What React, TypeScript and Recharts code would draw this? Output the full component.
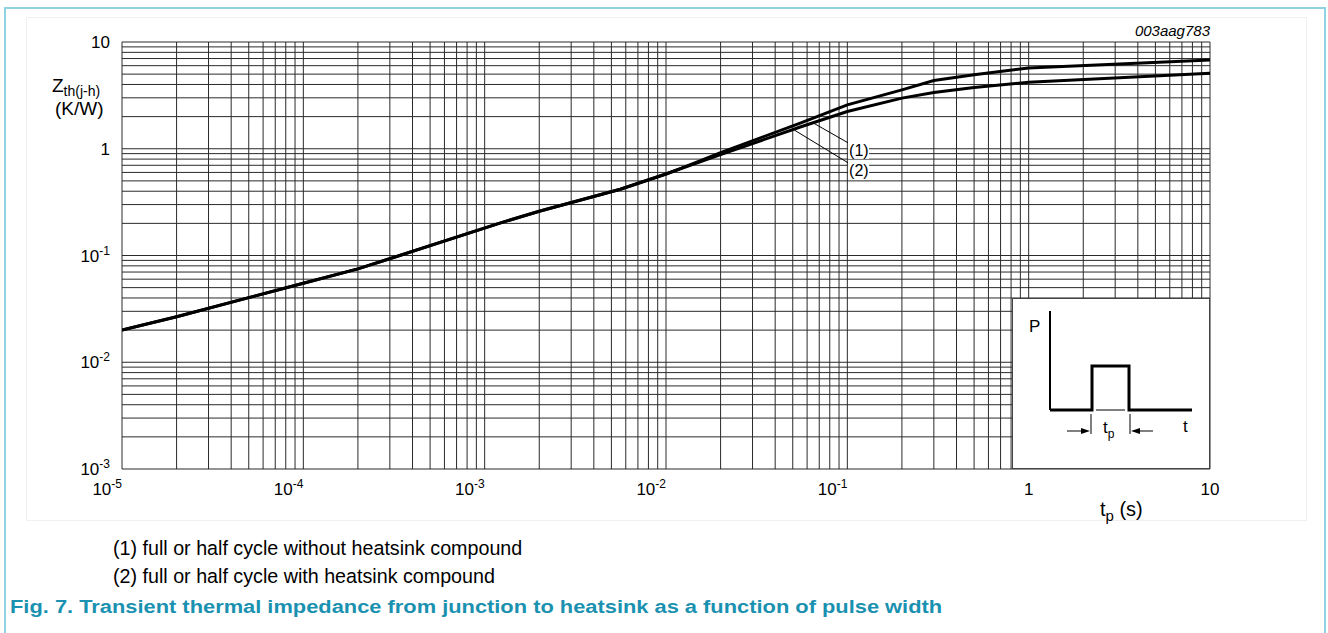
import React from 'react';
import { LineChart, Line, XAxis, YAxis, CartesianGrid, ReferenceLine, ReferenceDot } from 'recharts';

const FONT = '"Liberation Sans", Arial, sans-serif';

// pulse width t_p (s) and Zth(j-h) (K/W)
const pulseWidth = [1e-5, 2e-5, 5e-5, 1e-4, 2e-4, 3.4e-4, 1.2e-3, 2e-3, 5.6e-3, 1e-2, 1.2e-2, 2e-2, 5.5e-2, 0.1, 0.2, 0.3, 0.5, 1, 10];
// (1) without heatsink compound
const zthNoCompound = [0.02, 0.0267, 0.0403, 0.055, 0.075, 0.1, 0.2, 0.26, 0.418, 0.58, 0.65, 0.92, 1.74, 2.58, 3.56, 4.36, 4.94, 5.72, 6.8];
// (2) with heatsink compound
const zthCompound = [0.02, 0.0267, 0.0403, 0.055, 0.075, 0.1, 0.2, 0.26, 0.418, 0.58, 0.65, 0.88, 1.6, 2.23, 2.98, 3.36, 3.75, 4.2, 5.1];

// decade ticks and their labels (base + superscript)
const xTickValues = [1e-5, 1e-4, 1e-3, 1e-2, 1e-1, 1, 10];
const xTickBase = ['10', '10', '10', '10', '10', '1', '10'];
const xTickExp = ['-5', '-4', '-3', '-2', '-1', '', ''];
const yTickValues = [1e-3, 1e-2, 1e-1, 1, 10];
const yTickBase = ['10', '10', '10', '1', '10'];
const yTickExp = ['-3', '-2', '-1', '', ''];

const legendLines = ['(1) full or half cycle without heatsink compound', '(2) full or half cycle with heatsink compound'];
const caption = 'Fig. 7. Transient thermal impedance from junction to heatsink as a function of pulse width';

// log-paper grid: 1..9 in every decade
const steps = [1, 2, 3, 4, 5, 6, 7, 8, 9];
const logGrid = (decades: number[]) =>
  decades.slice(0, -1).flatMap((d) => steps.map((m) => +(d * m).toPrecision(6))).concat(decades[decades.length - 1]);
const xGrid = logGrid(xTickValues);
const yGrid = logGrid(yTickValues);

const data = pulseWidth.map((t, i) => ({ t, z1: zthNoCompound[i], z2: zthCompound[i] }));

const findDecade = (vals: number[], v: number) => vals.findIndex((d) => Math.abs(v - d) / d < 1e-6);

const XTick = (props: any) => {
  const { x, y, payload } = props;
  const i = findDecade(xTickValues, payload.value);
  if (i < 0) return <g />;
  const exp = xTickExp[i];
  return (
    <text x={x} y={y + 26} textAnchor={exp ? 'end' : 'middle'} fontSize={17} fontFamily={FONT} fill="#000">
      <tspan>{xTickBase[i]}</tspan>
      {exp && <tspan dy={-7} fontSize={12}>{exp}</tspan>}
    </text>
  );
};

const YTick = (props: any) => {
  const { x, y, payload } = props;
  const i = findDecade(yTickValues, payload.value);
  if (i < 0) return <g />;
  const exp = yTickExp[i];
  return (
    <text x={x} y={y + 6} textAnchor="end" fontSize={17} fontFamily={FONT} fill="#000">
      <tspan>{yTickBase[i]}</tspan>
      {exp && <tspan dy={-7} fontSize={12}>{exp}</tspan>}
    </text>
  );
};

const curveTag = (text: string) => (p: any) => (
  <g>
    <rect x={p.cx} y={p.cy - 9} width={21} height={18} fill="#fff" />
    <text x={p.cx + 1} y={p.cy + 6} fontSize={16} fontFamily={FONT} fill="#000">{text}</text>
  </g>
);

function PulseInset() {
  return (
    <svg width={198} height={171} style={{ position: 'absolute', left: 1012, top: 298 }}>
      <rect x={0.5} y={0.5} width={197} height={170} fill="#fff" stroke="#444" strokeWidth={1} />
      <text x={17} y={34} fontSize={17} fontFamily={FONT}>P</text>
      <line x1={38} y1={13} x2={38} y2={112} stroke="#000" strokeWidth={2} />
      <polyline points="38,112 80,112 80,68 117,68 117,112 180,112" fill="none" stroke="#000" strokeWidth={3} />
      <line x1={84} y1={112} x2={113} y2={112} stroke="#fff" strokeWidth={3} />
      <line x1={84} y1={112} x2={113} y2={112} stroke="#000" strokeWidth={1} />
      <line x1={79} y1={116} x2={79} y2={136} stroke="#000" strokeWidth={1} />
      <line x1={118} y1={116} x2={118} y2={136} stroke="#000" strokeWidth={1} />
      <line x1={55} y1={133} x2={72} y2={133} stroke="#000" strokeWidth={1} />
      <polygon points="78,133 69,130 69,136" fill="#000" />
      <line x1={124} y1={133} x2={141} y2={133} stroke="#000" strokeWidth={1} />
      <polygon points="119,133 128,130 128,136" fill="#000" />
      <text x={91} y={135} fontSize={17} fontFamily={FONT}>
        t<tspan fontSize={12} dy={5}>p</tspan>
      </text>
      <text x={171} y={134} fontSize={17} fontFamily={FONT}>t</text>
    </svg>
  );
}

export default function App() {
  return (
    <div style={{ position: 'absolute', left: 0, top: 0, width: 1328, height: 633, overflow: 'hidden', background: '#fff' }}>
      <div
        style={{
          position: 'absolute', left: 4, top: 7, width: 1322, height: 700, boxSizing: 'border-box',
          border: '2px solid #8fd2e1', borderBottom: 'none',
        }}
      />
      <svg width={1328} height={633} style={{ position: 'absolute', left: 0, top: 0 }}>
        <rect x={26.5} y={17.5} width={1280} height={503} fill="none" stroke="#f0f0f0" />
      </svg>
      <div style={{ position: 'absolute', left: 0, top: 0 }}>
        <LineChart width={1328} height={520} data={data} margin={{ top: 42, right: 118, bottom: 21, left: 62 }}>
          <CartesianGrid stroke="#2a2a2a" strokeWidth={1} />
          <XAxis
            dataKey="t" type="number" scale="log" domain={[1e-5, 10]} ticks={xGrid} interval={0}
            allowDataOverflow height={30} tick={XTick} tickLine={false} axisLine={false} tickSize={0} tickMargin={0}
          />
          <YAxis
            type="number" scale="log" domain={[1e-3, 10]} ticks={yGrid} interval={0}
            allowDataOverflow width={60} tick={YTick} tickLine={false} axisLine={false} tickSize={0} tickMargin={12}
          />
          <ReferenceLine segment={[{ x: 0.0647, y: 1.75 }, { x: 0.101, y: 1.136 }]} stroke="#000" strokeWidth={1} />
          <ReferenceLine segment={[{ x: 0.0509, y: 1.5 }, { x: 0.101, y: 0.738 }]} stroke="#000" strokeWidth={1} />
          <ReferenceDot x={0.101} y={0.977} r={0} shape={curveTag('(1)')} />
          <ReferenceDot x={0.101} y={0.634} r={0} shape={curveTag('(2)')} />
          <Line dataKey="z1" type="linear" stroke="#000" strokeWidth={3} dot={false} isAnimationActive={false} />
          <Line dataKey="z2" type="linear" stroke="#000" strokeWidth={3} dot={false} isAnimationActive={false} />
        </LineChart>
      </div>
      <PulseInset />
      <svg width={1328} height={633} style={{ position: 'absolute', left: 0, top: 0, pointerEvents: 'none' }} fontFamily={FONT}>
        <text x={1210} y={36} textAnchor="end" fontSize={15} fontStyle="italic">003aag783</text>
        <text x={52} y={92} fontSize={19}>
          Z<tspan fontSize={14} dy={4}>th(j-h)</tspan>
        </text>
        <text x={55} y={115} fontSize={19}>(K/W)</text>
        <text x={1100} y={516} fontSize={20}>
          t<tspan fontSize={15} dy={5}>p</tspan><tspan dy={-5}> (s)</tspan>
        </text>
        {legendLines.map((line, i) => (
          <text key={line} x={113} y={555 + i * 28} fontSize={19.7}>{line}</text>
        ))}
        <text transform="translate(10,613) scale(1.15,1)" fontSize={19} fontWeight="bold" fill="#1a91b0">{caption}</text>
      </svg>
    </div>
  );
}
